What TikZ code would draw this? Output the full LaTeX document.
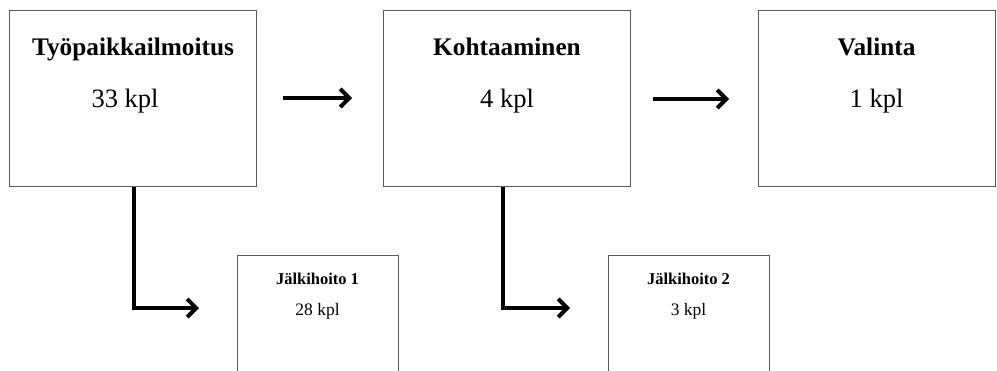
\documentclass[tikz,border=0pt]{standalone}
\usepackage{fontspec}
\setmainfont{Liberation Serif}
\usetikzlibrary{arrows.meta}
\begin{document}
\begin{tikzpicture}[x=1pt,y=-1pt,
  stage/.style={draw=black!65, line width=1pt, rectangle, inner sep=0pt, anchor=north west},
  bigbox/.style={stage, minimum width=247pt, minimum height=176pt},
  smallbox/.style={stage, minimum width=161pt, minimum height=140pt},
  bigtitle/.style={anchor=base, inner sep=0pt, font=\bfseries\fontsize{25.3}{30}\selectfont},
  bigvalue/.style={anchor=base, inner sep=0pt, font=\fontsize{26.5}{32}\selectfont},
  smalltitle/.style={anchor=base, inner sep=0pt, font=\bfseries\fontsize{16.5}{20}\selectfont},
  smallvalue/.style={anchor=base, inner sep=0pt, font=\fontsize{17.5}{21}\selectfont},
  flow/.style={line width=4pt, -{Straight Barb[length=9pt,width=18pt]}}]
\useasboundingbox (0,0) rectangle (997,370);
\clip (0,0) rectangle (997,370);
\fill[white] (0,0) rectangle (997,370);

% main stages
\node[bigbox] (b1) at (9,10) {};
\node[bigbox] (b2) at (383,10) {};
\node[bigbox, minimum width=237pt] (b3) at (758,10) {};

\node[bigtitle] (t1) at (133,55) {Työpaikkailmoitus};
\node[bigvalue] (v1) at (125,107) {33 kpl};
\node[bigtitle] (t2) at (507,55) {Kohtaaminen};
\node[bigvalue] (v2) at (507,107) {4 kpl};
\node[bigtitle] (t3) at (876.5,55) {Valinta};
\node[bigvalue] (v3) at (876.5,107) {1 kpl};

% follow-up boxes
\node[smallbox] (s1) at (237,255) {};
\node[smallbox] (s2) at (608,255) {};
\node[smalltitle] (st1) at (317.5,284) {Jälkihoito 1};
\node[smallvalue] (sv1) at (317.5,315) {28 kpl};
\node[smalltitle] (st2) at (688.5,284) {Jälkihoito 2};
\node[smallvalue] (sv2) at (688.5,315) {3 kpl};

% arrows between stages
\coordinate (a1s) at (283,98);
\coordinate (a1e) at (352,98);
\coordinate (a2s) at (653,99);
\coordinate (a2e) at (729,99);
\draw[flow] (a1s) -- (a1e);
\draw[flow] (a2s) -- (a2e);

% branches to follow-up
\coordinate (e1) at (199,308);
\coordinate (e2) at (570,308);
\draw[flow] ([xshift=0.5pt]b1.south) |- (e1);
\draw[flow] ([xshift=-4pt]b2.south) |- (e2);
\end{tikzpicture}
\end{document}
